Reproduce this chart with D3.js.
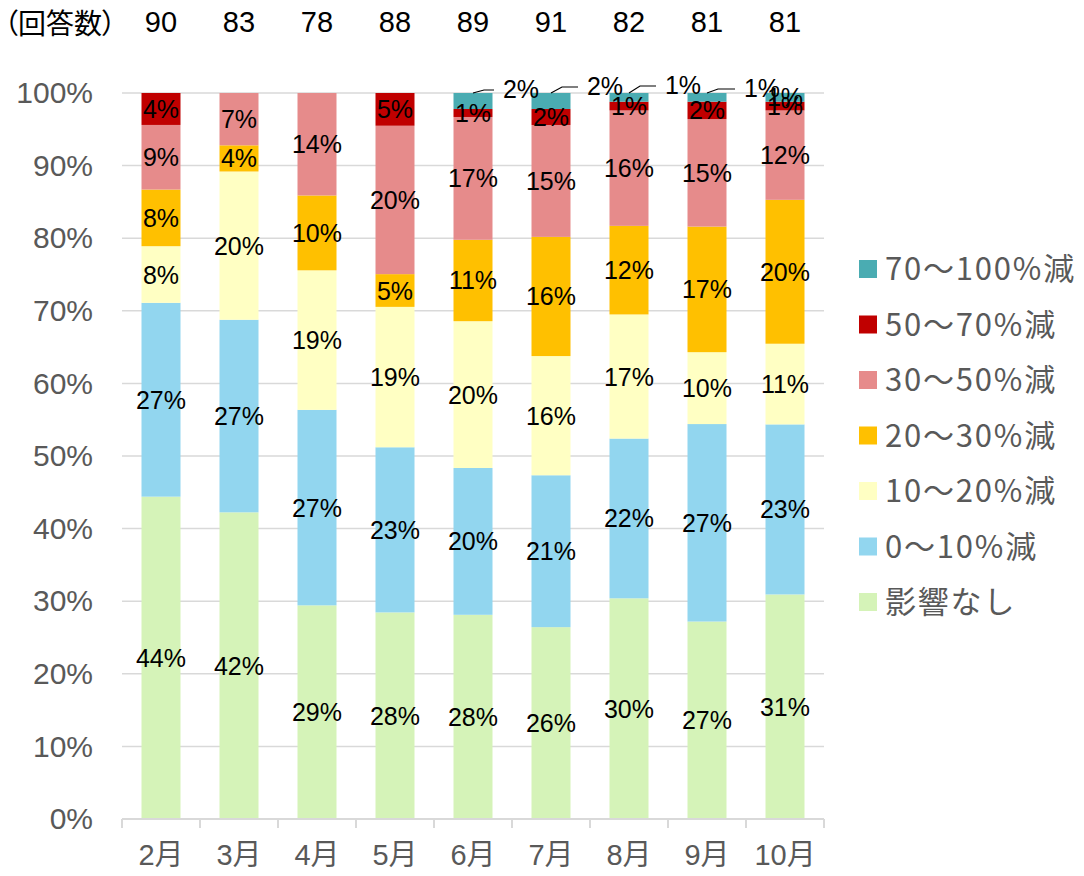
<!DOCTYPE html>
<html>
<head>
<meta charset="utf-8">
<script src="https://cdn.jsdelivr.net/npm/d3@7"></script>
<style>
  body { margin: 0; background: #fff; }
  svg { display: block; }
  .palt { font-feature-settings: "palt"; }
</style>
</head>
<body>
<svg id="chart" width="1084" height="876"></svg>
<script>
// Monthly breakdown of reported impact (share of respondents, %)
const months = ["2月", "3月", "4月", "5月", "6月", "7月", "8月", "9月", "10月"];
const responses = [90, 83, 78, 88, 89, 91, 82, 81, 81];

const seriesNames = ["影響なし", "0～10%減", "10～20%減", "20～30%減", "30～50%減", "50～70%減", "70～100%減"];

const noImpact   = [44.4, 42.2, 29.4, 28.4, 28.1, 26.4, 30.4, 27.2, 30.9];
const down0to10  = [26.7, 26.5, 26.9, 22.7, 20.2, 20.9, 22.0, 27.2, 23.4];
const down10to20 = [ 7.8, 20.4, 19.2, 19.3, 20.2, 16.4, 17.1,  9.9, 11.1];
const down20to30 = [ 7.8,  3.6, 10.3,  4.5, 11.2, 16.4, 12.2, 17.3, 19.8];
const down30to50 = [ 8.9,  7.2, 14.1, 20.4, 16.9, 15.4, 15.9, 14.8, 12.3];
const down50to70 = [ 4.4,  0.0,  0.0,  4.5,  1.1,  2.2,  1.2,  2.4,  1.2];
const down70to100= [ 0.0,  0.0,  0.0,  0.0,  2.2,  2.2,  1.2,  1.2,  1.2];

const yTickValues = [0, 0.1, 0.2, 0.3, 0.4, 0.5, 0.6, 0.7, 0.8, 0.9, 1.0];

const seriesColors = ["#d5f3b8", "#92d6ef", "#ffffc3", "#ffc000", "#e68b8b", "#c00000", "#4aacb2"];

// Small segments whose labels sit above the bar with a leader line
const calloutMonths = ["6月", "7月", "8月", "9月"];
const calloutDx = [48, 54, 54, 55];
const calloutDy = [-4, -7, -8, -5];

const seriesValues = [noImpact, down0to10, down10to20, down20to30, down30to50, down50to70, down70to100];

const rows = months.map((m, i) => {
  const r = { month: m };
  seriesNames.forEach((s, k) => { r[s] = seriesValues[k][i]; });
  return r;
});

const svg = d3.select("#chart");
const plot = { left: 122, right: 824, top: 93, bottom: 819 };

const x = d3.scaleBand()
  .domain(months)
  .range([plot.left, plot.right])
  .paddingInner(0.5)
  .paddingOuter(0.25);

const y = d3.scaleLinear().domain([0, 1]).range([plot.bottom, plot.top]);

const color = d3.scaleOrdinal().domain(seriesNames).range(seriesColors);

const stacked = d3.stack().keys(seriesNames).offset(d3.stackOffsetExpand)(rows);

const latinFont = "'Liberation Sans', Arial, 'Noto Sans CJK JP', sans-serif";
const cjkFont = "'Noto Sans CJK JP', 'Noto Sans', sans-serif";

// Gridlines
svg.append("g")
  .selectAll("line")
  .data(yTickValues.filter(v => v > 0))
  .join("line")
  .attr("x1", plot.left).attr("x2", plot.right)
  .attr("y1", d => y(d)).attr("y2", d => y(d))
  .attr("stroke", "#d9d9d9").attr("stroke-width", 1.5);

// Y axis labels
const yAxis = d3.axisLeft(y).tickValues(yTickValues).tickFormat(d3.format(".0%")).tickSize(0).tickPadding(0);
const yAxisG = svg.append("g").attr("transform", `translate(${plot.left - 29},0)`).call(yAxis);
yAxisG.select(".domain").remove();
yAxisG.selectAll("text")
  .attr("font-family", latinFont).attr("font-size", 30).attr("fill", "#595959");

// Bars
const layers = svg.append("g").selectAll("g")
  .data(stacked)
  .join("g")
  .attr("fill", d => color(d.key));

layers.selectAll("rect")
  .data(d => d)
  .join("rect")
  .attr("x", d => x(d.data.month))
  .attr("width", x.bandwidth())
  .attr("y", d => y(d[1]))
  .attr("height", d => Math.max(0, y(d[0]) - y(d[1])));

// X axis line and ticks at category boundaries
const xAxis = d3.axisBottom(x).tickSize(0).tickPadding(25);
const xAxisG = svg.append("g").attr("transform", `translate(0,${plot.bottom})`).call(xAxis);
xAxisG.select(".domain").attr("stroke", "#d9d9d9").attr("stroke-width", 2)
  .attr("d", `M${plot.left},0H${plot.right}`);
xAxisG.selectAll("text")
  .attr("font-family", latinFont).attr("font-size", 29).attr("fill", "#595959");
const step = x.step();
svg.append("g").selectAll("line")
  .data(d3.range(months.length + 1))
  .join("line")
  .attr("x1", i => plot.left + i * step).attr("x2", i => plot.left + i * step)
  .attr("y1", plot.bottom).attr("y2", plot.bottom + 9)
  .attr("stroke", "#d9d9d9").attr("stroke-width", 2);

// Value labels
const labelG = svg.append("g")
  .attr("font-family", latinFont).attr("font-size", 25).attr("fill", "#000")
  .attr("text-anchor", "middle");

stacked.forEach(layer => {
  layer.forEach(d => {
    const v = d.data[layer.key];
    if (!(v > 0)) return;
    const cx = x(d.data.month) + x.bandwidth() / 2;
    const txt = Math.round(v) + "%";
    const ci = layer.key === "70～100%減" ? calloutMonths.indexOf(d.data.month) : -1;
    if (ci >= 0) {
      const top = y(d[1]);
      const lx = cx + calloutDx[ci];
      const ly = top + calloutDy[ci];
      labelG.append("path")
        .attr("d", d3.line()([[cx, top], [cx + 11, ly + 1], [lx - 27, ly + 1]]))
        .attr("fill", "none").attr("stroke", "#000").attr("stroke-width", 1.2);
      labelG.append("text").attr("x", lx).attr("y", ly).attr("dy", "0.36em").text(txt);
    } else {
      labelG.append("text")
        .attr("x", cx).attr("y", (y(d[0]) + y(d[1])) / 2).attr("dy", "0.36em")
        .text(txt);
    }
  });
});

// Response counts along the top
svg.append("text")
  .attr("class", "palt")
  .attr("x", 4).attr("y", 23.5).attr("dy", "0.36em")
  .attr("font-family", cjkFont).attr("font-size", 28).attr("fill", "#000")
  .text("（回答数）");
svg.append("g").selectAll("text")
  .data(responses)
  .join("text")
  .attr("x", (d, i) => x(months[i]) + x.bandwidth() / 2)
  .attr("y", 22).attr("dy", "0.36em")
  .attr("text-anchor", "middle")
  .attr("font-family", latinFont).attr("font-size", 29).attr("fill", "#000")
  .text(d => d);

// Legend (top-most series first)
const legend = svg.append("g").selectAll("g")
  .data(seriesNames.slice().reverse())
  .join("g")
  .attr("transform", (d, i) => `translate(859,${269 + i * 55.5})`);
legend.append("rect")
  .attr("x", 0).attr("y", -9).attr("width", 18).attr("height", 18)
  .attr("fill", d => color(d));
legend.append("text")
  .attr("x", 26).attr("y", 0).attr("dy", "0.36em")
  .attr("font-family", cjkFont).attr("font-size", 31).attr("fill", "#595959")
  .attr("letter-spacing", 1.8)
  .text(d => d);
</script>
</body>
</html>
